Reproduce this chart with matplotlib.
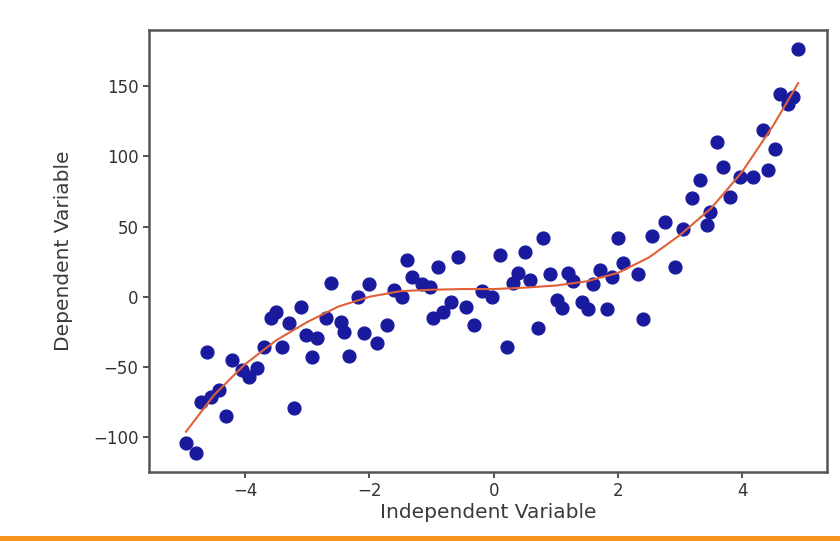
import numpy as np
import matplotlib
matplotlib.use('Agg')
import matplotlib.pyplot as plt
from matplotlib.patches import Rectangle

# scatter points
x_pts = [-4.95, -4.79, -4.71, -4.55, -4.42, -4.61, -4.31, -4.21, -4.05, -3.94,
         -3.81, -3.69, -3.40, -3.58, -3.50, -3.29, -3.10, -3.21, -3.02, -2.84,
         -2.92, -2.69, -2.61, -2.45, -2.40, -2.32, -2.19, -2.00, -2.08, -1.87,
         -1.71, -1.60, -1.48, -1.40, -1.31, -1.15, -1.03, -0.90, -0.98, -0.82,
         -0.58, -0.68, -0.44, -0.31, -0.18, -0.03, 0.10, 0.21, 0.31, 0.39,
         0.58, 0.50, 0.79, 0.71, 0.90, 1.02, 1.10, 1.19, 1.27, 1.42,
         1.52, 1.60, 1.71, 1.82, 1.90, 2.00, 2.08, 2.32, 2.40, 2.55,
         2.76, 3.05, 2.92, 3.19, 3.32, 3.44, 3.48, 3.60, 3.69, 3.81,
         3.97, 4.18, 4.42, 4.34, 4.53, 4.61, 4.81, 4.90, 4.74]
y_pts = [-104, -111, -75, -71, -66, -39, -85, -45, -52, -57,
         -51, -36, -36, -15, -11, -19, -7, -79, -27, -29,
         -43, -15, 10, -18, -25, -42, 0, 9, -26, -33,
         -20, 5, 0, 26, 14, 9, 7, 21, -15, -11,
         28, -4, -7, -20, 4, 0, 30, -36, 10, 17,
         12, 32, 42, -22, 16, -2, -8, 17, 11, -4,
         -9, 9, 19, -9, 14, 42, 24, 16, -16, 43,
         53, 48, 21, 70, 83, 51, 60, 110, 92, 71,
         85, 85, 90, 119, 105, 144, 142, 176, 137]

# fitted curve
x_fit = [-4.95, -4.5, -4, -3.5, -3, -2.5, -2, -1.5, -1, -0.5, 0,
         0.5, 1, 1.5, 2, 2.5, 3, 3.5, 4, 4.5, 4.9]
y_fit = [-96, -70, -48, -31, -18, -7, 0, 4, 5, 5.5, 5.5,
         6.5, 8, 11, 17, 28, 44, 63, 89, 122, 152]

fig = plt.figure(figsize=(8.4, 5.41), dpi=100)
ax = fig.add_axes([0.177, 0.128, 0.808, 0.817])

ax.scatter(x_pts, y_pts, s=85, color='#1a1a9e', zorder=2)
ax.plot(x_fit, y_fit, color='#e0603a', lw=1.5, zorder=3)

ax.set_xlim(-5.55, 5.37)
ax.set_ylim(-124.5, 190)
ax.set_xticks([-4, -2, 0, 2, 4])
ax.set_yticks([-100, -50, 0, 50, 100, 150])
ax.tick_params(labelsize=12, colors='#333333', width=1.2, length=4)
ax.set_xlabel('Independent Variable', fontsize=14.5, color='#3a3a3a', labelpad=2)
ax.set_ylabel('Dependent Variable', fontsize=14.5, color='#3a3a3a', labelpad=14)
for sp in ax.spines.values():
    sp.set_color('#555555')
    sp.set_linewidth(1.8)

# orange strip along the bottom edge
fig.add_artist(Rectangle((0, 0), 1, 0.009, transform=fig.transFigure,
                         color='#f7941d', lw=0))

fig.savefig('out.png', dpi=100)
